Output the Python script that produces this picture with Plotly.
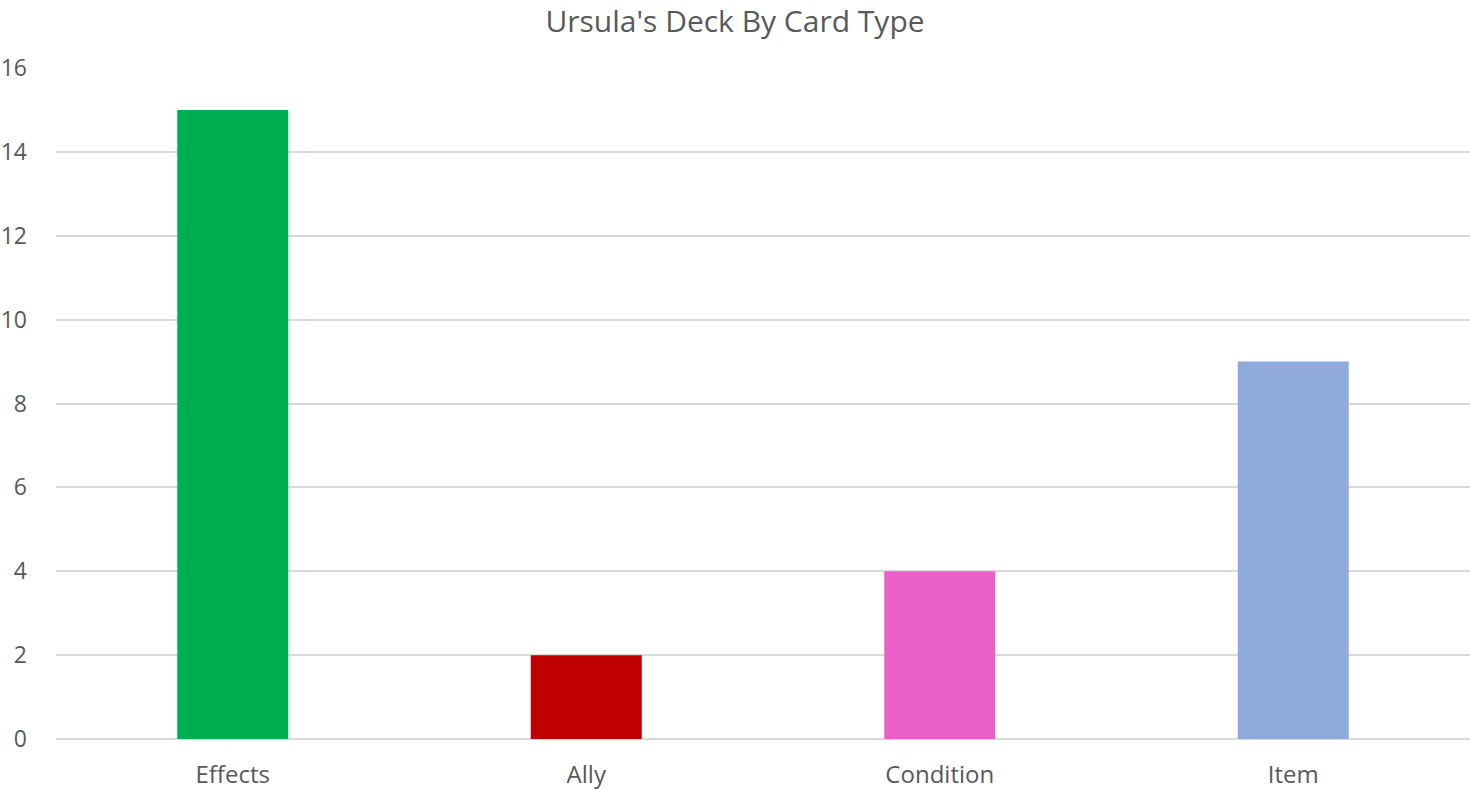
import plotly.graph_objects as go

categories = ["Effects", "Ally", "Condition", "Item"]
counts = [15, 2, 4, 9]
bar_colors = ["#00B050", "#C00000", "#EA60C8", "#8FAADC"]
y_ticks = [0, 2, 4, 6, 8, 10, 12, 14, 16]

fig = go.Figure(go.Bar(x=categories, y=counts, marker_color=bar_colors,
                       marker_line_width=0, width=0.314, hoverinfo="x+y"))

font_family = "Open Sans, Noto Sans, sans-serif"
fig.update_layout(
    width=1470, height=790,
    margin=dict(l=56, r=0, t=68, b=51),
    paper_bgcolor="white", plot_bgcolor="white",
    title=dict(text="Ursula's Deck By Card Type", x=0.5, xanchor="center",
               y=0.9734, yanchor="middle",
               font=dict(family=font_family, size=30, color="#595959")),
    font=dict(family=font_family, color="#595959"),
    showlegend=False,
)
fig.update_xaxes(showgrid=False, showline=False, ticks="",
                 tickfont=dict(size=24, color="#595959"), ticklabelstandoff=19)
fig.update_yaxes(range=[0, 16], tickvals=y_ticks, showgrid=True,
                 gridcolor="#D9D9D9", gridwidth=1.5, zeroline=True,
                 zerolinecolor="#D9D9D9", zerolinewidth=1.5, showline=False,
                 tickfont=dict(size=23, color="#595959"), ticks="",
                 ticklabelstandoff=28)

fig.write_html("out.html", config={"displayModeBar": False},
               post_script="document.body.style.margin='0';document.body.style.overflow='hidden';")
